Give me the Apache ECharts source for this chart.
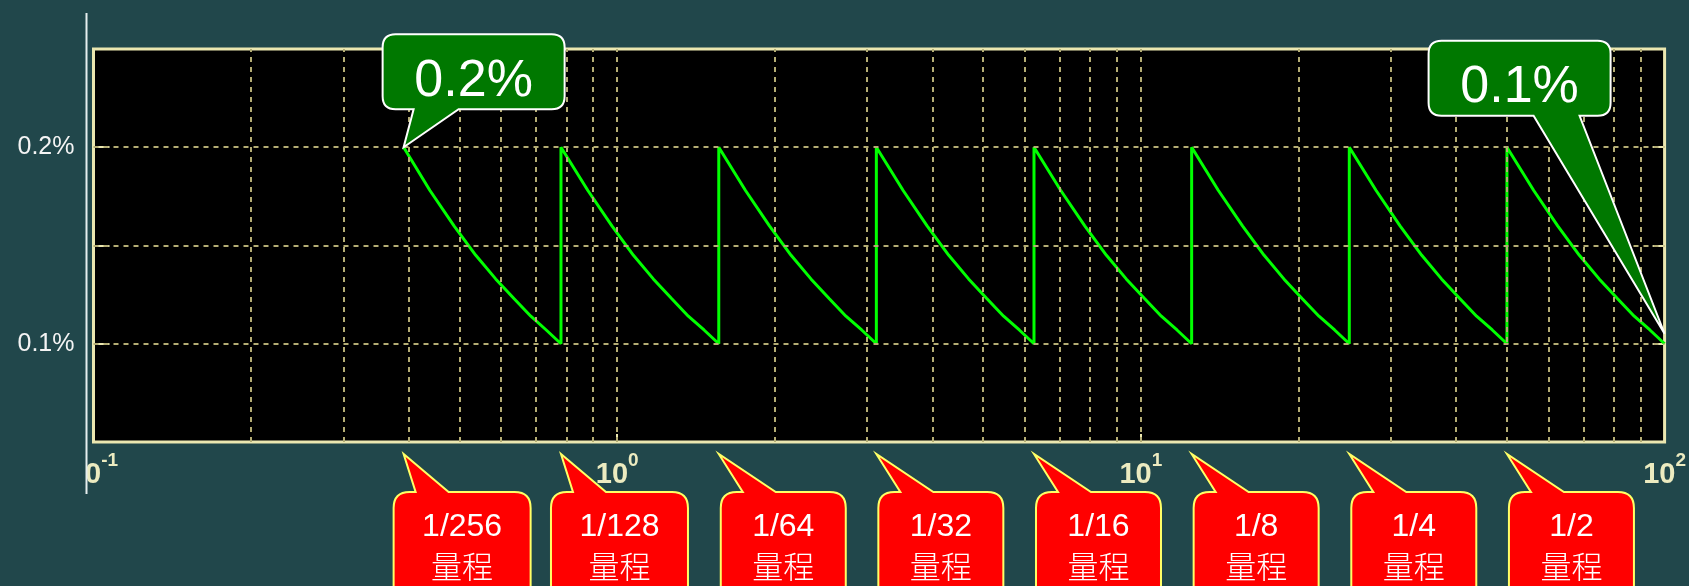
<!DOCTYPE html>
<html>
<head>
<meta charset="utf-8">
<script src="https://cdn.jsdelivr.net/npm/echarts@6/dist/echarts.min.js"></script>
<style>
  html, body { margin: 0; padding: 0; background: #21474b; }
  #chart { width: 1689px; height: 586px; }
</style>
</head>
<body>
<div id="chart"></div>
<script>
// ranges: each range starts where the error is 0.2% and ends at 0.1%
const rangeStart = [0.391, 0.781, 1.563, 3.125, 6.25, 12.5, 25, 50];
const rangeLabels = ["1/256", "1/128", "1/64", "1/32", "1/16", "1/8", "1/4", "1/2"];

// x values of each sawtooth segment
const errX = [
  [0.391, 0.439, 0.488, 0.537, 0.586, 0.635, 0.684, 0.732, 0.781],
  [0.781, 0.879, 0.977, 1.074, 1.172, 1.27, 1.367, 1.465, 1.563],
  [1.563, 1.758, 1.953, 2.148, 2.344, 2.539, 2.734, 2.93, 3.125],
  [3.125, 3.516, 3.906, 4.297, 4.688, 5.078, 5.469, 5.859, 6.25],
  [6.25, 7.031, 7.813, 8.594, 9.375, 10.16, 10.94, 11.72, 12.5],
  [12.5, 14.06, 15.63, 17.19, 18.75, 20.31, 21.88, 23.44, 25],
  [25, 28.13, 31.25, 34.38, 37.5, 40.63, 43.75, 46.88, 50],
  [50, 56.25, 62.5, 68.75, 75, 81.25, 87.5, 93.75, 100]
];
// error (%) along each segment
const errY = [0.2, 0.178, 0.16, 0.145, 0.133, 0.123, 0.114, 0.107, 0.1];

// grid lines, tick labels
const xGrid = [0.2, 0.3, 0.4, 0.5, 0.6, 0.7, 0.8, 0.9, 1, 2, 3, 4, 5, 6, 7, 8, 9, 10, 20, 30, 40, 50, 60, 70, 80, 90];
const yGrid = [0.1, 0.15, 0.2];
const xTickExp = ["-1", "0", "1", "2"];
const yLabelVals = [0.1, 0.2];

// green callouts
const calloutPts = [[0.391, 0.2], [100, 0.1]];
const calloutText = ["0.2%", "0.1%"];

const BG = "#21474b";
const FRAME = "#ebe7b0";
const GRID = "#b4ad74";
const Y_MIN = 0.05;

const lineData = [];
errX.forEach(seg => seg.forEach((x, i) => lineData.push([x, errY[i]])));

// rounded box with a pointed tail
function bubble(x, y, w, h, r, b1, b2, tx, ty, tailDown) {
  const R = x + w, B = y + h;
  if (!tailDown) {
    return `M${x + r},${y} L${b1},${y} L${tx},${ty} L${b2},${y} L${R - r},${y} Q${R},${y} ${R},${y + r} L${R},${B - r} Q${R},${B} ${R - r},${B} L${x + r},${B} Q${x},${B} ${x},${B - r} L${x},${y + r} Q${x},${y} ${x + r},${y} Z`;
  }
  return `M${x + r},${y} L${R - r},${y} Q${R},${y} ${R},${y + r} L${R},${B - r} Q${R},${B} ${R - r},${B} L${b2},${B} L${tx},${ty} L${b1},${B} L${x + r},${B} Q${x},${B} ${x},${B - r} L${x},${y + r} Q${x},${y} ${x + r},${y} Z`;
}

const myChart = echarts.init(document.getElementById("chart"));

const labelFont = "'Liberation Sans', Arial";

const option = {
  backgroundColor: BG,
  animation: false,
  grid: {
    left: 93.5,
    right: 21,
    top: 49,
    bottom: 144,
    show: true,
    backgroundColor: "#000",
    borderColor: FRAME,
    borderWidth: 3
  },
  xAxis: {
    type: "log",
    logBase: 10,
    min: 0.1,
    max: 100,
    axisLine: { show: false },
    axisTick: { show: true, inside: true, length: 8, lineStyle: { color: FRAME, width: 2 } },
    splitLine: { show: false },
    axisLabel: {
      margin: 18,
      formatter: (v, i) => "{a|10}{e|" + xTickExp[i] + "}",
      rich: {
        a: {
          fontSize: 29,
          lineHeight: 30,
          verticalAlign: "middle",
          fontWeight: "bold",
          color: "#ecebc0",
          fontFamily: labelFont
        },
        e: {
          fontSize: 19,
          lineHeight: 20,
          padding: [0, 0, 29, 0],
          verticalAlign: "middle",
          fontWeight: "bold",
          color: "#ecebc0",
          fontFamily: labelFont
        }
      }
    }
  },
  yAxis: [
    {
      type: "value",
      min: Y_MIN,
      max: 0.25,
      interval: 0.05,
      axisLine: { show: false },
      axisTick: { show: true, inside: true, length: 16, lineStyle: { color: FRAME, width: 2 } },
      splitLine: { show: false },
      axisLabel: {
        margin: 19,
        color: "#f4f4f4",
        fontSize: 25,
        fontFamily: labelFont,
        formatter: v => {
          const hit = yLabelVals.find(t => Math.abs(t - v) < 1e-6);
          return hit === undefined ? "" : hit + "%";
        }
      }
    },
    {
      type: "value",
      position: "right",
      min: Y_MIN,
      max: 0.25,
      interval: 0.05,
      axisLine: { show: false },
      axisTick: { show: true, inside: true, length: 12, lineStyle: { color: FRAME, width: 2 } },
      splitLine: { show: false },
      axisLabel: { show: false }
    }
  ],
  graphic: [
    // hides the part of the 10^-1 label left of the white line
    { type: "rect", z: 100, shape: { x: 0, y: 446, width: 87, height: 52 }, style: { fill: BG } },
    { type: "line", z: 101, shape: { x1: 86.5, y1: 13, x2: 86.5, y2: 494 }, style: { stroke: "#e6eeee", lineWidth: 2 } }
  ],
  series: [
    {
      // dashed grid
      type: "line",
      z: 1,
      data: [],
      markLine: {
        silent: true,
        symbol: ["none", "none"],
        label: { show: false },
        lineStyle: { color: GRID, width: 2, type: [5, 5] },
        data: [
          ...xGrid.map(v => ({ xAxis: v })),
          ...yGrid.map(v => ({ yAxis: v }))
        ]
      }
    },
    {
      type: "line",
      z: 3,
      data: lineData,
      showSymbol: false,
      lineStyle: { color: "#00ff00", width: 3 }
    },
    {
      // green value callouts
      type: "custom",
      z: 10,
      data: calloutPts,
      renderItem: (params, api) => {
        const i = params.dataIndex;
        const p = api.coord([api.value(0), api.value(1)]);
        let tx = p[0], ty = p[1], bx, by, b1, b2;
        const bw = 182, bh = 75;
        if (i === 0) {
          bx = tx - 21; by = ty - 113; b1 = bx + 31; b2 = bx + 76;
        } else {
          ty -= 10;
          bx = tx - 236; by = ty - 293; b1 = bx + 105; b2 = bx + 151;
        }
        return {
          type: "group",
          children: [
            {
              type: "path",
              shape: { pathData: bubble(bx, by, bw, bh, 13, b1, b2, tx, ty, true) },
              style: { fill: "#007800", stroke: "#ffffff", lineWidth: 2 }
            },
            {
              type: "text",
              style: {
                text: calloutText[i],
                x: bx + bw / 2,
                y: by + 47,
                fill: "#ffffff",
                font: "52px 'Liberation Sans', Arial",
                align: "center",
                verticalAlign: "middle",
                textAlign: "center",
                textVerticalAlign: "middle"
              }
            }
          ]
        };
      }
    },
    {
      // red range callouts
      type: "custom",
      z: 10,
      data: rangeStart.map(v => [v, Y_MIN]),
      renderItem: (params, api) => {
        const label = rangeLabels[params.dataIndex];
        const p = api.coord([api.value(0), Y_MIN]);
        const tx = p[0], ty = p[1] + 12;
        const wide = label.length > 4;
        const bx = wide ? tx - 10 : tx + 2;
        const bw = wide ? 137 : 125;
        const by = ty + 38, bh = 130;
        return {
          type: "group",
          children: [
            {
              type: "path",
              shape: { pathData: bubble(bx, by, bw, bh, 16, bx + 22, bx + 55, tx, ty, false) },
              style: { fill: "#ff0000", stroke: "#ffff66", lineWidth: 2 }
            },
            {
              type: "text",
              style: {
                text: label,
                x: bx + bw / 2,
                y: by + 35,
                fill: "#ffffff",
                font: "32px 'Liberation Sans', Arial",
                align: "center",
                verticalAlign: "middle",
                textAlign: "center",
                textVerticalAlign: "middle"
              }
            },
            {
              type: "text",
              style: {
                text: "量程",
                x: bx + bw / 2,
                y: by + 74,
                fill: "#ffffff",
                font: "300 31px 'Noto Sans CJK SC'",
                align: "center",
                verticalAlign: "middle",
                textAlign: "center",
                textVerticalAlign: "middle"
              }
            }
          ]
        };
      }
    }
  ]
};

myChart.setOption(option);

window.addEventListener("resize", () => {
  myChart.resize();
});
</script>
</body>
</html>
